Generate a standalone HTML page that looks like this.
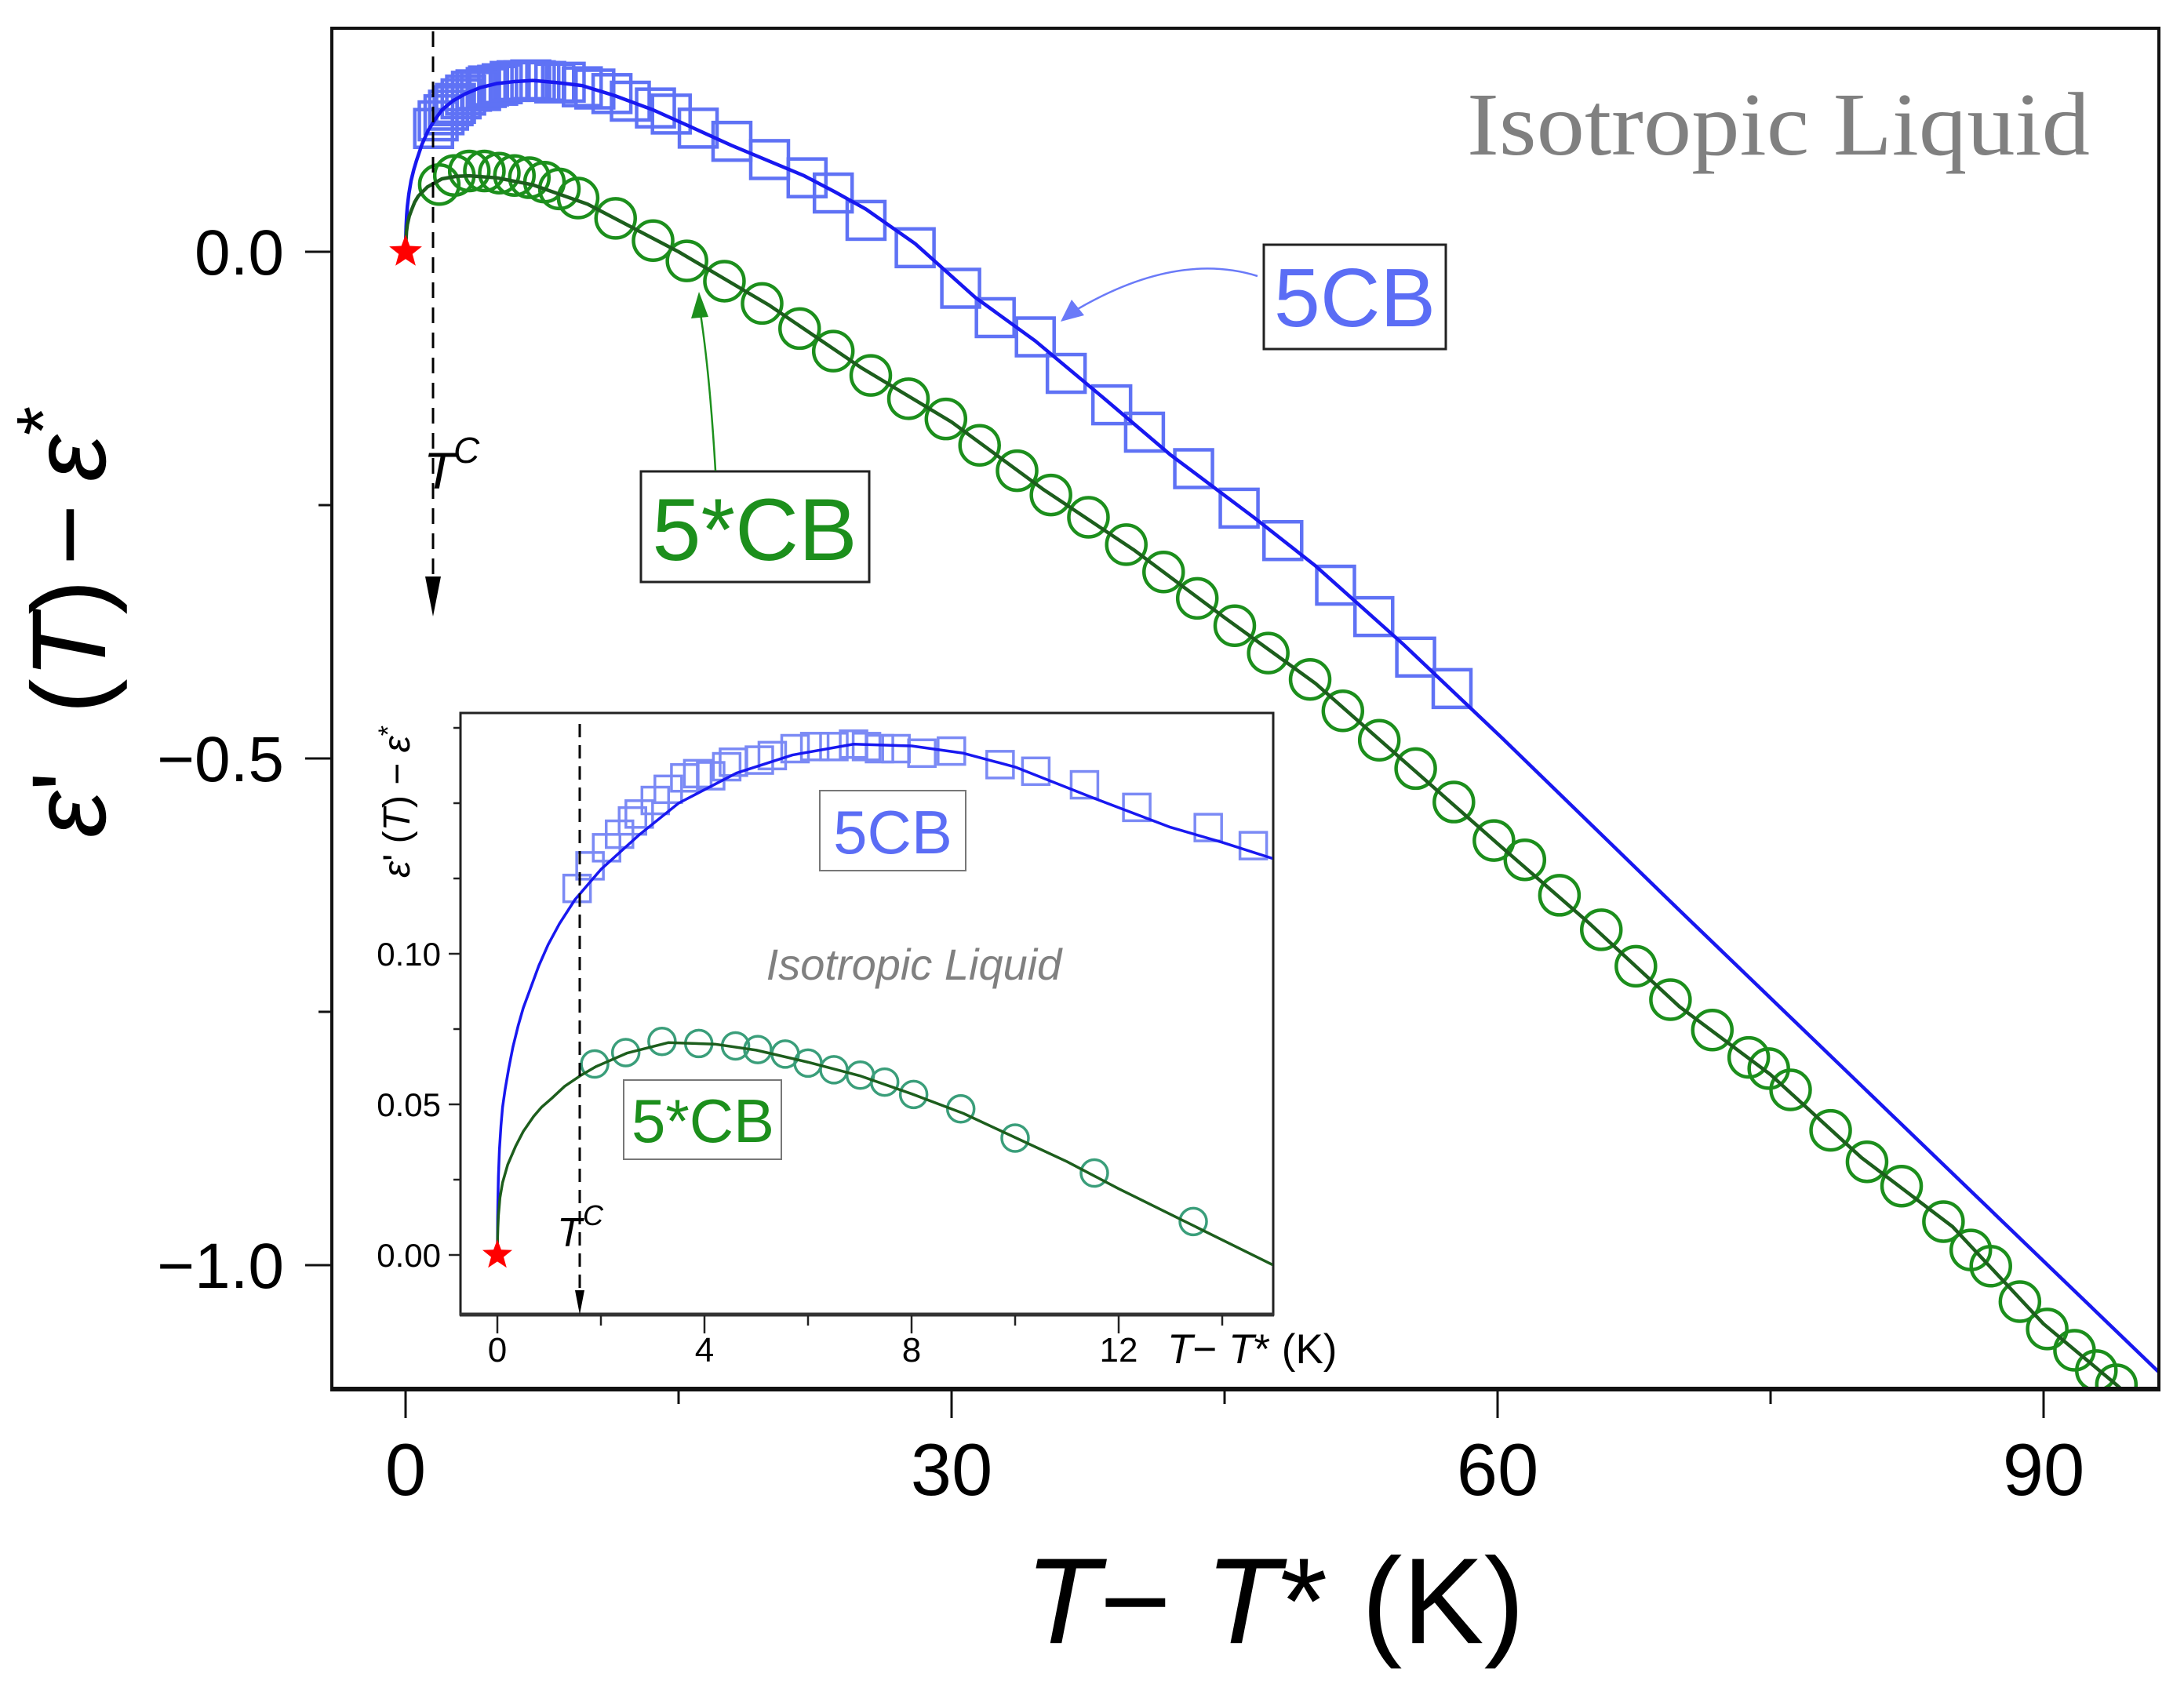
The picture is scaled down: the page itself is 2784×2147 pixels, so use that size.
<!DOCTYPE html>
<html><head><meta charset="utf-8"><style>
html,body{margin:0;padding:0;background:#fff;}
svg{display:block;}
text{font-family:"Liberation Sans",sans-serif;}
</style></head><body>
<svg id="chart" width="2784" height="2147" viewBox="0 0 2784 2147" xmlns="http://www.w3.org/2000/svg">
<defs>
<clipPath id="mainClip"><rect x="425" y="38" width="2326" height="1730"/></clipPath>
<clipPath id="insetClip"><rect x="588" y="911" width="1034" height="764"/></clipPath>
</defs>
<rect x="0" y="0" width="2784" height="2147" fill="#fff"/>
<g id="main"></g>
<g id="inset"></g>
<g id="anno"></g>
</svg>
<script>
// ---------- main chart data ----------
const cb5X = [1.54,1.79,2.11,2.36,2.61,2.74,3.05,3.30,3.62,3.87,4.12,4.43,4.56,5.06,5.31,5.75,6.13,6.50,6.88,7.13,7.38,7.70,8.20,8.77,9.71,10.40,11.34,12.35,13.73,14.6,16.08,17.93,20.0,22.06,23.5,25.3,28.0,30.5,32.4,34.6,36.3,38.8,40.6,43.3,45.8,48.2,51.1,53.2,55.5,57.5];
const cb5Y = [0.1217,0.1292,0.1352,0.1397,0.1441,0.1464,0.1509,0.1546,0.1584,0.1598,0.1591,0.1621,0.1636,0.1643,0.1658,0.1681,0.1688,0.1688,0.1696,0.1688,0.1681,0.1681,0.1666,0.1673,0.1628,0.1606,0.1561,0.1486,0.1419,0.1359,0.122,0.109,0.091,0.073,0.058,0.031,0.004,-0.036,-0.065,-0.084,-0.120,-0.151,-0.178,-0.214,-0.253,-0.285,-0.329,-0.360,-0.400,-0.431];
const cb5sX = [1.85,2.68,3.50,4.33,5.15,5.98,6.80,7.63,8.45,9.48,11.54,13.6,15.46,17.52,19.59,21.65,23.5,25.56,27.63,29.69,31.54,33.6,35.46,37.52,39.6,41.65,43.5,45.56,47.4,49.7,51.5,53.5,55.5,57.6,59.8,61.5,63.4,65.7,67.6,69.5,71.8,73.8,74.9,76.1,78.3,80.3,82.2,84.5,86.0,87.1,88.7,90.2,91.7,92.9,94.0];
const cb5sY = [0.0664,0.0753,0.0797,0.0797,0.0776,0.0753,0.0731,0.0687,0.062,0.053,0.033,0.011,-0.009,-0.029,-0.051,-0.0758,-0.098,-0.122,-0.145,-0.165,-0.191,-0.216,-0.240,-0.262,-0.289,-0.316,-0.342,-0.369,-0.396,-0.422,-0.453,-0.482,-0.51,-0.543,-0.581,-0.600,-0.635,-0.669,-0.705,-0.738,-0.768,-0.795,-0.806,-0.827,-0.867,-0.898,-0.922,-0.957,-0.985,-1.001,-1.036,-1.063,-1.084,-1.104,-1.118];
const fitBlueX = [0,0.01,0.03,0.06,0.1,0.18,0.3,0.45,0.6,0.9,1.25,1.6,2,2.6,3.3,4.1,5,6,7,8.3,9.7,11.5,13.6,15.7,17.9,19.9,21.9,23.6,25.3,28,31.3,34.6,38.4,42,46.6,50,54.8,60.2,70,80,90,96.3];
const fitBlueY = [0,0.012,0.025,0.036,0.045,0.057,0.07,0.081,0.09,0.106,0.12,0.13,0.14,0.149,0.156,0.162,0.166,0.168,0.169,0.167,0.164,0.154,0.14,0.123,0.105,0.09,0.075,0.059,0.042,0.008,-0.045,-0.088,-0.145,-0.2,-0.262,-0.31,-0.387,-0.479,-0.65,-0.823,-0.996,-1.105];
const fitGreenX = [0,0.02,0.05,0.1,0.2,0.3,0.5,0.7,1.2,2,2.8,3.5,5,7,10,15,20,25,30,35,40,45,50,55,60,65,70,75,80,85,90,94,96.5];
const fitGreenY = [0,0.01,0.02,0.027,0.035,0.04,0.049,0.055,0.064,0.072,0.0745,0.075,0.073,0.066,0.047,0.0,-0.053,-0.114,-0.168,-0.234,-0.294,-0.361,-0.426,-0.505,-0.584,-0.662,-0.745,-0.812,-0.894,-0.962,-1.058,-1.118,-1.158];
const xTicks = [0,30,60,90];
const xTickLabels = ["0","30","60","90"];
const xMinor = [15,45,75];
const yTicks = [0,-0.5,-1.0];
const yTickLabels = ["0.0","\u22120.5","\u22121.0"];
const yMinor = [-0.25,-0.75];
// ---------- inset data ----------
const inX5 = [1.54,1.79,2.11,2.36,2.61,2.74,3.05,3.30,3.62,3.87,4.12,4.43,4.56,5.06,5.31,5.75,6.13,6.50,6.88,7.13,7.38,7.70,8.20,8.77,9.71,10.40,11.34,12.35,13.73,14.6];
const inY5 = [0.1217,0.1292,0.1352,0.1397,0.1441,0.1464,0.1509,0.1546,0.1584,0.1598,0.1591,0.1621,0.1636,0.1643,0.1658,0.1681,0.1688,0.1688,0.1696,0.1688,0.1681,0.1681,0.1666,0.1673,0.1628,0.1606,0.1561,0.1486,0.1419,0.1359];
const inXs = [1.88,2.48,3.18,3.89,4.60,5.03,5.56,6.00,6.50,7.01,7.48,8.04,8.95,10.0,11.53,13.44];
const inYs = [0.0634,0.0672,0.0709,0.0702,0.0694,0.0682,0.0667,0.0637,0.0615,0.0597,0.0574,0.0533,0.0485,0.0388,0.0272,0.0111];
const inFitBX = [0,0.005,0.01,0.02,0.04,0.07,0.1,0.15,0.22,0.3,0.4,0.5,0.65,0.8,0.98,1.2,1.5,2,2.74,3.5,4.62,5.7,6.88,8,9,10,11.53,13,14,15];
const inFitBY = [0,0.012,0.018,0.026,0.035,0.043,0.049,0.055,0.062,0.069,0.076,0.082,0.089,0.096,0.103,0.110,0.118,0.128,0.1395,0.150,0.160,0.166,0.1696,0.169,0.1666,0.162,0.1516,0.142,0.137,0.1315];
const inFitGX = [0,0.005,0.01,0.02,0.05,0.1,0.2,0.35,0.5,0.7,0.85,1.05,1.3,1.6,1.9,2.5,3.3,4.2,5,6,7,8,9,10,11,12,13,14,15];
const inFitGY = [0,0.006,0.009,0.013,0.019,0.024,0.03,0.036,0.041,0.046,0.049,0.052,0.056,0.0595,0.0625,0.067,0.0705,0.070,0.068,0.064,0.0595,0.0535,0.047,0.039,0.031,0.022,0.0135,0.005,-0.0035];
const inXTicks = [0,4,8,12];
const inXTickLabels = ["0","4","8","12"];
const inXMinor = [2,6,10,14];
const inYTicks = [0,0.05,0.10];
const inYTickLabels = ["0.00","0.05","0.10"];
const inYMinor = [0.025,0.075,0.125,0.15,0.175];

const NS = "http://www.w3.org/2000/svg";
function mk(tag, attrs, parent){
  const e = document.createElementNS(NS, tag);
  for (const k in attrs) e.setAttribute(k, attrs[k]);
  parent.appendChild(e);
  return e;
}
const xpx = v => 517 + v*23.2;
const ypx = v => 321 - v*1292;
const ix = v => 634 + v*66;
const iy = v => 1600 - v*3840;

const main = document.getElementById('main');
const inset = document.getElementById('inset');

const mclip = mk('g', {'clip-path':'url(#mainClip)'}, main);


cb5X.forEach((v,i)=>{
  const r = mk('rect', {x:xpx(v)-24, y:ypx(cb5Y[i])-24, width:48, height:48, fill:'none', stroke:'#5f72f5', 'stroke-width':4.5}, mclip);
  
  
});
cb5sX.forEach((v,i)=>{
  const c = mk('circle', {cx:xpx(v), cy:ypx(cb5sY[i]), r:25, fill:'none', stroke:'#1c8f1c', 'stroke-width':4.5}, mclip);
  
  
});
const pb = mk('polyline', {points: fitBlueX.map((v,i)=>xpx(v)+','+ypx(fitBlueY[i])).join(' '), fill:'none', stroke:'#1818f0', 'stroke-width':4.5, 'stroke-linejoin':'round'}, mclip);


const pg = mk('polyline', {points: fitGreenX.map((v,i)=>xpx(v)+','+ypx(fitGreenY[i])).join(' '), fill:'none', stroke:'#1d5e1d', 'stroke-width':4.5, 'stroke-linejoin':'round'}, mclip);



const fr = mk('rect', {x:423, y:36, width:2329, height:1734, fill:'none', stroke:'#111', 'stroke-width':4}, main);


mk('line', {x1:421, y1:1771, x2:2754, y2:1771, stroke:'#111', 'stroke-width':6}, main);
xTicks.forEach((v,i)=>{
  mk('line', {x1:xpx(v), y1:1772, x2:xpx(v), y2:1808, stroke:'#111', 'stroke-width':3}, main);
  const t = mk('text', {x:xpx(v), y:1906, 'font-size':94, 'text-anchor':'middle', fill:'#000'}, main);
  t.textContent = xTickLabels[i];
  
  
});
xMinor.forEach(v=>{ mk('line', {x1:xpx(v), y1:1772, x2:xpx(v), y2:1790, stroke:'#111', 'stroke-width':3}, main); });
yTicks.forEach((v,i)=>{
  mk('line', {x1:389, y1:ypx(v), x2:423, y2:ypx(v), stroke:'#111', 'stroke-width':3}, main);
  const t = mk('text', {x:362, y:ypx(v)+29, 'font-size':82, 'text-anchor':'end', fill:'#000'}, main);
  t.textContent = yTickLabels[i];
  
  
});
yMinor.forEach(v=>{ mk('line', {x1:406, y1:ypx(v), x2:423, y2:ypx(v), stroke:'#111', 'stroke-width':3}, main); });

function star(cx, cy, R, parent, name){
  let pts=[];
  for(let k=0;k<10;k++){const a=-Math.PI/2+k*Math.PI/5; const rr=k%2?R*0.42:R; pts.push((cx+rr*Math.cos(a)).toFixed(1)+','+(cy+rr*Math.sin(a)).toFixed(1));}
  const s = mk('polygon', {points:pts.join(' '), fill:'#ff0000'}, parent);
  
  
}
star(xpx(0), ypx(0), 22, main, 'critical-point-star');

// ---------- inset ----------
const ibg = mk('rect', {x:587, y:909, width:1036, height:767, fill:'#fff', stroke:'#222', 'stroke-width':3}, inset);


mk('line', {x1:586, y1:1676, x2:1624, y2:1676, stroke:'#333', 'stroke-width':5}, inset);
const iclip = mk('g', {'clip-path':'url(#insetClip)'}, inset);
inX5.forEach((v,i)=>{
  const r = mk('rect', {x:ix(v)-17, y:iy(inY5[i])-17, width:34, height:34, fill:'none', stroke:'#7b8af5', 'stroke-width':3.5}, iclip);
  
  
});
inXs.forEach((v,i)=>{
  const c = mk('circle', {cx:ix(v), cy:iy(inYs[i]), r:17, fill:'none', stroke:'#3a9e7a', 'stroke-width':3.5}, iclip);
  
  
});
const ipb = mk('polyline', {points: inFitBX.map((v,i)=>ix(v)+','+iy(inFitBY[i])).join(' '), fill:'none', stroke:'#1818f0', 'stroke-width':3.5, 'stroke-linejoin':'round'}, iclip);


const ipg = mk('polyline', {points: inFitGX.map((v,i)=>ix(v)+','+iy(inFitGY[i])).join(' '), fill:'none', stroke:'#1d5e1d', 'stroke-width':3.5, 'stroke-linejoin':'round'}, iclip);


inXTicks.forEach((v,i)=>{
  mk('line', {x1:ix(v), y1:1677, x2:ix(v), y2:1700, stroke:'#222', 'stroke-width':2.5}, inset);
  const t = mk('text', {x:ix(v), y:1736, 'font-size':44, 'text-anchor':'middle', fill:'#000'}, inset);
  t.textContent = inXTickLabels[i];
  
  
});
inXMinor.forEach(v=>{ mk('line', {x1:ix(v), y1:1677, x2:ix(v), y2:1690, stroke:'#222', 'stroke-width':2.5}, inset); });
inYTicks.forEach((v,i)=>{
  mk('line', {x1:572, y1:iy(v), x2:587, y2:iy(v), stroke:'#222', 'stroke-width':2.5}, inset);
  const t = mk('text', {x:562, y:iy(v)+15, 'font-size':42, 'text-anchor':'end', fill:'#000'}, inset);
  t.textContent = inYTickLabels[i];
  
  
});
inYMinor.forEach(v=>{ mk('line', {x1:578, y1:iy(v), x2:587, y2:iy(v), stroke:'#222', 'stroke-width':2.5}, inset); });
star(ix(0), iy(0), 20, inset, 'inset-critical-point-star');
</script>
<script>
const A = document.getElementById('anno');
A.innerHTML = `
<g>
<line x1="552" y1="40" x2="552" y2="740" stroke="#000" stroke-width="3" stroke-dasharray="20,12"/>
<polygon points="542,735 562,735 552,786" fill="#000"/>
<text x="540" y="623" font-size="66" font-style="italic" fill="#000">T</text>
<text x="578" y="590" font-size="46" font-style="italic" fill="#000">C</text>
</g>
<g>
<line x1="739" y1="923" x2="739" y2="1650" stroke="#000" stroke-width="3" stroke-dasharray="17,10"/>
<polygon points="733,1645 745,1645 739,1676" fill="#000"/>
<text x="710" y="1589" font-size="52" font-style="italic" fill="#000">T</text>
<text x="743" y="1562" font-size="36" font-style="italic" fill="#000">C</text>
</g>
<text x="1870" y="197" font-size="114" textLength="794" lengthAdjust="spacingAndGlyphs" fill="#808080" style="font-family:'Liberation Serif',serif">Isotropic Liquid</text>
<g>
<rect x="1611" y="312" width="232" height="133" fill="#fff" stroke="#222" stroke-width="3"/>
<text x="1727" y="416" font-size="106" text-anchor="middle" fill="#5b6df5">5CB</text>
<path d="M1603,352 Q1500,320 1372,395" fill="none" stroke="#6a7af8" stroke-width="2.5"/>
<polygon points="1352,410 1366,382 1382,402" fill="#6a7af8"/>
</g>
<g>
<rect x="817" y="601" width="291" height="141" fill="#fff" stroke="#222" stroke-width="3"/>
<text x="962" y="714" font-size="112" text-anchor="middle" fill="#1c8f1c">5*CB</text>
<path d="M912,600 Q905,480 893,400" fill="none" stroke="#1c8f1c" stroke-width="2.5"/>
<polygon points="891,372 881,406 903,404" fill="#1c8f1c"/>
</g>
<g>
<rect x="1045" y="1008" width="186" height="102" fill="#fff" stroke="#777" stroke-width="2"/>
<text x="1138" y="1088" font-size="78" text-anchor="middle" fill="#5b6df5">5CB</text>
</g>
<g>
<rect x="795" y="1377" width="201" height="101" fill="#fff" stroke="#777" stroke-width="2"/>
<text x="896" y="1456" font-size="78" text-anchor="middle" fill="#1c8f1c">5*CB</text>
</g>
<text x="1165" y="1249" font-size="56" font-style="italic" text-anchor="middle" fill="#808080">Isotropic Liquid</text>
<text x="1488" y="1738" font-size="53" fill="#000"><tspan font-style="italic">T</tspan>− <tspan font-style="italic">T</tspan>* (K)</text>
<text transform="translate(522,1022) rotate(-90)" font-size="48" text-anchor="middle" fill="#000"><tspan font-style="italic">ε</tspan>' (<tspan font-style="italic">T</tspan>) − <tspan font-style="italic">ε</tspan><tspan dy="-16" font-size="34">*</tspan></text>
<text transform="translate(134,1068) rotate(-90)" font-size="134" fill="#000"><tspan x="0" font-style="italic">ε</tspan><tspan>'</tspan><tspan x="158">(</tspan><tspan font-style="italic">T</tspan><tspan>)</tspan><tspan x="347">−</tspan><tspan x="454" font-style="italic">ε</tspan><tspan dy="-46" font-size="96">*</tspan></text>
<text x="1625" y="2095" font-size="156" text-anchor="middle" fill="#000"><tspan font-style="italic">T</tspan>− <tspan font-style="italic">T</tspan>*   (K)</text>
`;
</script>
</body></html>
